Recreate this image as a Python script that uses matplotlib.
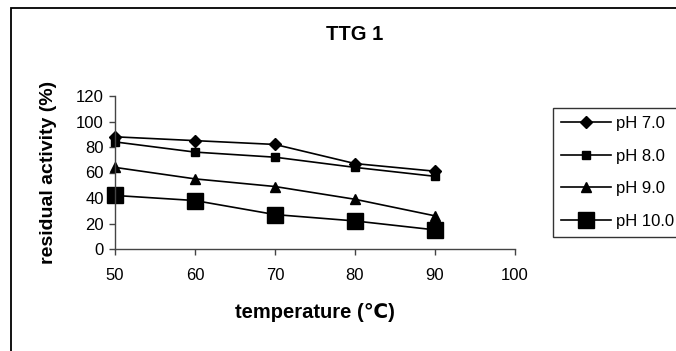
import matplotlib
matplotlib.use("Agg")
import matplotlib.pyplot as plt
from matplotlib.patches import Rectangle

plt.rcParams['font.family'] = ['Liberation Sans', 'DejaVu Sans']

temperature = [50, 60, 70, 80, 90]
ph7 = [88, 85, 82, 67, 61]
ph8 = [84, 76, 72, 64, 57]
ph9 = [64, 55, 49, 39, 26]
ph10 = [42, 38, 27, 22, 15]
series_labels = ["pH 7.0", "pH 8.0", "pH 9.0", "pH 10.0"]
x_ticks = [50, 60, 70, 80, 90, 100]
y_ticks = [0, 20, 40, 60, 80, 100, 120]

W, H = 676, 351
fig = plt.figure(figsize=(W / 100, H / 100), dpi=100)

# outer chart frame (runs off the right and bottom edges)
fig.add_artist(Rectangle((11 / W, -0.5), 1.5, 1.5 - 8 / H, transform=fig.transFigure,
                         fill=False, edgecolor='black', linewidth=1.3, clip_on=False))

ax = fig.add_axes([115 / W, 1 - 249 / H, 400 / W, 153 / H])

styles = [
    dict(marker='D', markersize=6),
    dict(marker='s', markersize=6),
    dict(marker='^', markersize=7.5),
    dict(marker='s', markersize=11),
]
for vals, lab, st in zip([ph7, ph8, ph9, ph10], series_labels, styles):
    ax.plot(temperature, vals, color='black', linewidth=1.2, label=lab,
            markerfacecolor='black', markeredgecolor='black', clip_on=False, **st)

ax.set_xlim(50, 100)
ax.set_ylim(0, 120)
ax.set_xticks(x_ticks)
ax.set_yticks(y_ticks)
for s in ['top', 'right']:
    ax.spines[s].set_visible(False)
for s in ['left', 'bottom']:
    ax.spines[s].set_color('#444444')
    ax.spines[s].set_linewidth(1.0)
ax.tick_params(axis='both', direction='out', length=4, width=1.0, color='#444444',
               labelsize=12, labelcolor='black')
ax.tick_params(axis='x', pad=10)
ax.tick_params(axis='y', pad=4)

fig.text(355 / W, 1 - 34 / H, "TTG 1", ha='center', va='center',
         fontsize=14.5, fontweight='bold')
fig.text(315 / W, 1 - 312 / H, "temperature (\u2103)", ha='center', va='center',
         fontsize=14.5, fontweight='bold')
fig.text(49 / W, 1 - 172 / H, "residual activity (%)", ha='center', va='center',
         rotation=90, fontsize=14, fontweight='bold')

leg = fig.legend(loc='upper left', bbox_to_anchor=(553 / W, 1 - 108 / H),
                 frameon=True, fancybox=False, fontsize=12, handlelength=3.0,
                 handletextpad=0.25, labelspacing=1.05, borderpad=0.5,
                 borderaxespad=0, markerscale=1.0)
leg.get_frame().set_edgecolor('black')
leg.get_frame().set_linewidth(1.0)

fig.savefig("out.png", dpi=100)
